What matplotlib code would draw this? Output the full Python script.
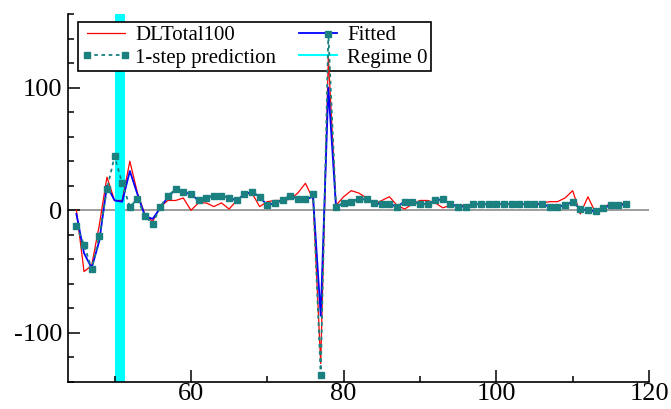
import numpy as np
import matplotlib.pyplot as plt
from matplotlib.lines import Line2D
from matplotlib.ticker import MultipleLocator

plt.rcParams['font.family'] = ['Liberation Serif', 'DejaVu Serif']
plt.rcParams['axes.unicode_minus'] = False

# Data
obs = list(range(45, 118))
actual = [0, -50, -45, -12, 27, 8, 8, 40, 14, -4,
          -9, 3, 8, 8, 10, 0, 6, 6, 3, 6,
          1, 8, 13, 14, 3, 7, 8, 8, 9, 14,
          22, 9, -125, 125, 4, 11, 16, 14, 10, 5,
          8, 11, 4, 1, 5, 8, 8, 6, 2, 4,
          4, 4, 5, 5, 5, 5, 5, 5, 5, 5,
          5, 6, 7, 7, 10, 16, -3, 11, -2, 3,
          5, 6, 5]
fitted = [-3, -35, -47, -25, 20, 8, 7, 32, 13, -5,
          -7, 2, 11, 17, 15, 13, 8, 10, 12, 12,
          10, 8, 13, 15, 11, 4, 6, 8, 12, 9,
          9, 11, -86, 100, 3, 6, 7, 9, 9, 6,
          5, 5, 3, 7, 7, 5, 5, 8, 9, 5,
          3, 3, 5, 5, 5, 5, 5, 5, 5, 5,
          5, 5, 3, 3, 4, 7, 1, 0, -1, 2,
          4, 4, 5]
pred = [-13, -28, -48, -21, 17, 44, 22, 3, 9, -5,
        -11, 3, 12, 17, 15, 13, 8, 10, 12, 12,
        10, 8, 13, 15, 11, 4, 6, 8, 12, 9,
        9, 13, -134, 144, 3, 6, 7, 9, 9, 6,
        5, 5, 3, 7, 7, 5, 5, 8, 9, 5,
        3, 3, 5, 5, 5, 5, 5, 5, 5, 5,
        5, 5, 3, 3, 4, 7, 1, 0, -1, 2,
        4, 4, 5]
regime0_span = (50.0, 51.35)

COL_ACT = "#ff0000"
COL_FIT = "#0000ff"
COL_PRED = "#1a8080"
COL_REG = "#00ffff"

fig = plt.figure(figsize=(6.71, 4.09), dpi=100)
ax = fig.add_axes([68 / 671, 1 - 382 / 409, 581 / 671, 368 / 409])

ax.axvspan(*regime0_span, color=COL_REG, lw=0, zorder=1)
ax.axhline(0, color="#8c8c8c", lw=1.2, zorder=0.9)

l_act, = ax.plot(obs, actual, color=COL_ACT, lw=0.9, zorder=3, label="DLTotal100")
l_fit, = ax.plot(obs, fitted, color=COL_FIT, lw=1.3, zorder=3.1, label="Fitted")
l_pred, = ax.plot(obs, pred, color=COL_PRED, lw=1.3, ls=(0, (2, 2)),
                  marker="s", ms=4.8, mec=COL_PRED, zorder=3.2,
                  label="1-step prediction")
h_reg = Line2D([], [], color=COL_REG, lw=1.5, label="Regime 0")

ax.set_xlim(43.9, 120)
ax.set_ylim(-140, 160)

ax.xaxis.set_major_locator(MultipleLocator(20))
ax.xaxis.set_minor_locator(MultipleLocator(10))
ax.yaxis.set_major_locator(MultipleLocator(100))
ax.yaxis.set_minor_locator(MultipleLocator(20))

for s in ("top", "right"):
    ax.spines[s].set_visible(False)
for s in ("left", "bottom"):
    ax.spines[s].set_linewidth(1.2)
    ax.spines[s].set_color("black")

ax.tick_params(which="both", direction="in", width=1.1, colors="black")
ax.tick_params(which="major", length=8.5, labelsize=19)
ax.tick_params(axis="y", which="major", pad=4)
ax.tick_params(axis="x", which="major", pad=1)
ax.tick_params(which="minor", length=4.3)

leg = ax.legend(handles=[l_act, l_pred, l_fit, h_reg], ncol=2,
                loc="upper left", bbox_to_anchor=(0.017, 0.978),
                borderaxespad=0, fontsize=15, frameon=True, fancybox=False,
                edgecolor="black", facecolor="white", framealpha=1,
                handlelength=2.4, handletextpad=0.2, columnspacing=0.8,
                borderpad=0.15, labelspacing=0.15, numpoints=2)
leg.get_frame().set_linewidth(1.2)
leg.set_zorder(2.5)

fig.savefig("out.png", dpi=100)
